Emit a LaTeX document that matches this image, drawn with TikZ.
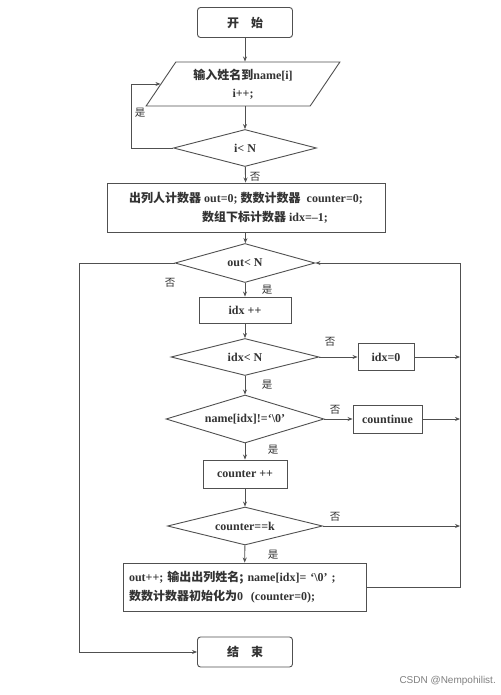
\documentclass[tikz,border=0pt]{standalone}
\usepackage{fontspec}
\setmainfont{Liberation Serif}
\newfontfamily\cjkfont{Noto Sans CJK SC}
\newfontfamily\wmfont{Liberation Sans}
\newcommand{\zhtext}[1]{{\cjkfont #1}}
\usetikzlibrary{shapes.geometric,arrows.meta}
\definecolor{ln}{HTML}{505050}
\definecolor{tx}{HTML}{333333}
\tikzset{
  base/.style={draw=ln, line width=0.9pt, text=tx, font=\fontsize{12}{15}\selectfont\bfseries, inner sep=0pt},
  procbox/.style={base, rectangle, minimum width=#1},
  termbox/.style={base, rectangle, rounded corners=3pt, minimum width=95pt, minimum height=30pt},
  decision/.style={base, diamond, aspect=#1},
  iobox/.style={base, trapezium, trapezium left angle=54, trapezium right angle=126, trapezium stretches=true, minimum width=194pt, minimum height=44pt},
  conn/.style={draw=ln, line width=0.9pt},
  arr/.style={conn, -{Stealth[length=5pt,width=4pt]}},
  lbl/.style={text=tx, font=\fontsize{10.5}{12}\selectfont\cjkfont, inner sep=0pt}
}
\begin{document}
\begin{tikzpicture}[x=1pt,y=-1pt]
\useasboundingbox (0,0) rectangle (500,695);
\fill[white] (0,0) rectangle (500,695);
% nodes
\node[termbox] (start) at (245,22.5) {\zhtext{开\quad 始}};
\node[iobox, align=center] (input) at (243,84) {\zhtext{输入姓名到}name[i]\\[3pt] i++;};
\node[decision=3.9, minimum width=143pt, minimum height=37pt] (d1) at (245,148) {i< N};
\node[procbox=278pt, minimum height=49pt, align=center] (init) at (246,207.5)
  {\zhtext{出列人计数器} out=0; \zhtext{数数计数器}\ \ counter=0;\\[4pt] \hspace*{38pt}\zhtext{数组下标计数器} idx=--1;};
\node[decision=3.6, minimum width=140pt, minimum height=39pt] (d2) at (245,263) {out< N};
\node[procbox=92pt, minimum height=26pt] (idxpp) at (245,310) {idx ++};
\node[decision=4, minimum width=148pt, minimum height=37pt] (d3) at (245,357) {idx< N};
\node[procbox=56pt, minimum height=27pt] (idx0) at (386,357) {idx=0};
\node[decision=3.3, minimum width=158pt, minimum height=48pt] (d4) at (245,419) {name[idx]!=`\textbackslash 0'};
\node[procbox=69pt, minimum height=28pt] (cont) at (387.5,419) {countinue};
\node[procbox=84pt, minimum height=28pt] (cpp) at (245,474) {counter ++};
\node[decision=4.1, minimum width=155pt, minimum height=38pt] (d5) at (245,526) {counter==k};
\node[procbox=243pt, minimum height=48pt, align=left, text width=231pt, inner xsep=6pt] (final) at (244.5,587)
  {out++; \zhtext{输出出列姓名;} name[idx]= `\textbackslash 0' ;\\[4pt] \zhtext{数数计数器初始化为}0\ \ (counter=0);};
\node[termbox] (stop) at (245,652) {\zhtext{结\quad 束}};
% rail coordinates
\coordinate (r1) at (460,357);
\coordinate (r2) at (460,419);
\coordinate (r3) at (460,526);
\coordinate (rb) at (460,587);
\coordinate (rt) at (460,263);
\coordinate (lt) at (79,263);
\coordinate (loopc) at (131,148);
% connectors
\draw[arr] (start.south) -- (start.south |- input.north);
\draw[arr] (start.south |- input.south) -- (d1.north);
\draw[arr] (d1.west) -- (loopc) |- (input.left side);
\draw[arr] (d1) -- (init);
\draw[arr] (init) -- (d2);
\draw[arr] (d2) -- (idxpp);
\draw[arr] (idxpp) -- (d3);
\draw[arr] (d3) -- (d4);
\draw[arr] (d4) -- (cpp);
\draw[arr] (cpp) -- (d5);
\draw[arr] (d5) -- (final);
\draw[arr] (d3.east) -- (idx0.west);
\draw[arr] (idx0.east) -- (r1);
\draw[arr] (d4.east) -- (cont.west);
\draw[arr] (cont.east) -- (r2);
\draw[arr] (d5.east) -- (r3);
\draw[arr] (final.east |- rb) -- (rb) -- (rt) -- (d2.east);
\draw[arr] (d2.west) -- (lt) |- (stop.west);
% labels
\node[lbl] at (140,113) {是};
\node[lbl] at (255,177) {否};
\node[lbl] at (170,283) {否};
\node[lbl] at (267,290) {是};
\node[lbl] at (330,342) {否};
\node[lbl] at (267,385) {是};
\node[lbl] at (335,410) {否};
\node[lbl] at (273,450) {是};
\node[lbl] at (335,517) {否};
\node[lbl] at (273,555) {是};
\node[text=gray, font=\fontsize{10}{12}\wmfont, anchor=east, inner sep=0pt] (wm) at (496,681) {CSDN @Nempohilist.};
\end{tikzpicture}
\end{document}
